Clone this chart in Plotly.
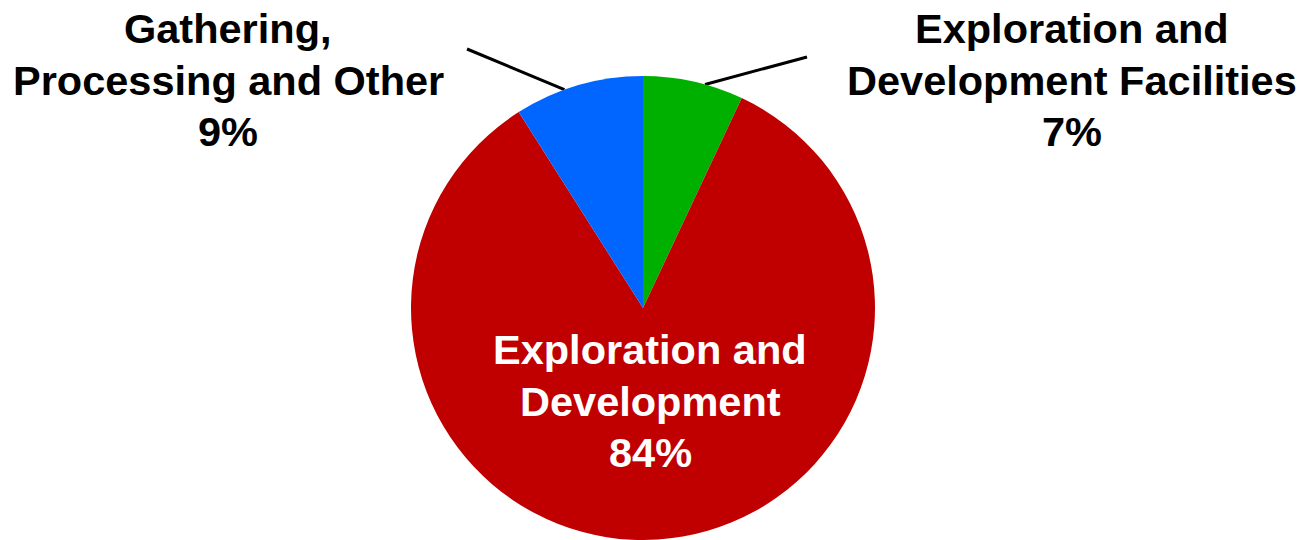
import math
import plotly.graph_objects as go

# Data
categories = ["Exploration and Development Facilities", "Exploration and Development", "Gathering, Processing and Other"]
values = [7, 84, 9]
label_lines = [["Exploration and", "Development Facilities"], ["Exploration and", "Development"], ["Gathering,", "Processing and Other"]]
colors = ["#00B000", "#C00000", "#0066FF"]

W, H = 1304, 540
CX, CY, R = 643, 308, 232

fig = go.Figure(go.Pie(
    labels=categories, values=values, sort=False, direction="clockwise", rotation=0,
    marker=dict(colors=colors, line=dict(width=0)), textinfo="none", hoverinfo="label+percent",
    domain=dict(x=[(CX - R) / W, (CX + R) / W], y=[(H - CY - R) / H, (H - CY + R) / H]),
    showlegend=False,
))

def px(x, y):
    return x / W, 1 - y / H

total = sum(values)
pcts = [f"{round(v * 100 / total)}%" for v in values]
font = dict(family="Liberation Sans, Arial, sans-serif", size=41.5)
# (center x, colour, y of middle line centre) in pixels
label_pos = [(1072, 'black', 80), (650, 'white', 401), (228, 'black', 80)]
LINE_GAP = 51.5
anns = []
for i, (lx, col, ly) in enumerate(label_pos):
    lines = label_lines[i] + [pcts[i]]
    for j, t in enumerate(lines):
        x, y = px(lx, ly + (j - 1) * LINE_GAP)
        anns.append(dict(x=x, y=y, xref="paper", yref="paper", text=f"<b>{t}</b>", showarrow=False,
                         xanchor="center", yanchor="middle", align="center",
                         font=dict(font, color=col)))

# leader lines for outside labels
shapes = []
leader = {0: (15.5, (807, 57)), 2: (-19.8, (467, 49))}
for i, (ang, (ex, ey)) in leader.items():
    sx = CX + R * math.sin(math.radians(ang))
    sy = CY - R * math.cos(math.radians(ang))
    x0, y0 = px(sx, sy)
    x1, y1 = px(ex, ey)
    shapes.append(dict(type="line", xref="paper", yref="paper", x0=x0, y0=y0, x1=x1, y1=y1,
                       line=dict(color="black", width=3), layer="below"))

fig.update_layout(width=W, height=H, margin=dict(l=0, r=0, t=0, b=0),
                  paper_bgcolor="white", plot_bgcolor="white",
                  annotations=anns, shapes=shapes)
fig.write_html("out.html", config={"displayModeBar": False},
               post_script="document.body.style.margin='0';")
